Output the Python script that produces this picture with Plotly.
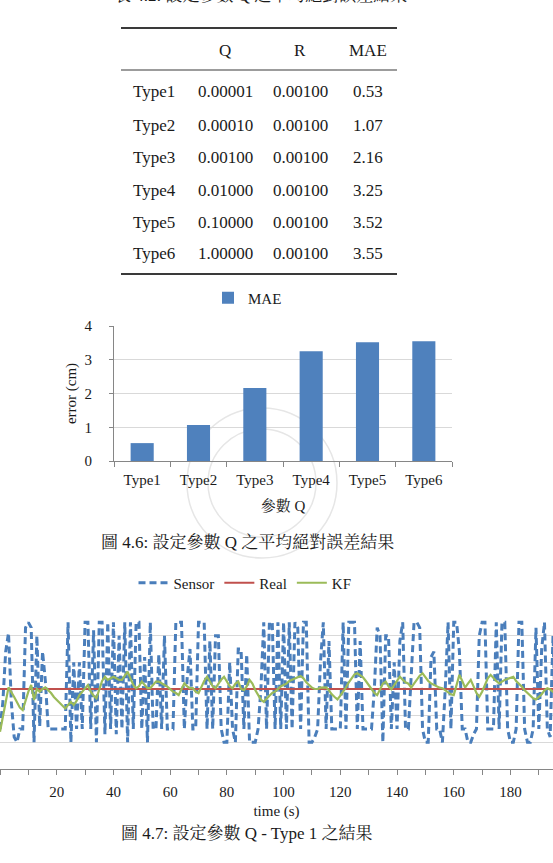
import plotly.graph_objects as go

W, H = 553, 863


def px(x):
    return x / W


def py(y):
    return 1 - y / H


SERIF = "Liberation Serif, Noto Serif CJK TC, Noto Sans CJK TC, serif"

# ---------------- table data ----------------
table_header = ["", "Q", "R", "MAE"]
table_types = ["Type1", "Type2", "Type3", "Type4", "Type5", "Type6"]
table_q = ["0.00001", "0.00010", "0.00100", "0.01000", "0.10000", "1.00000"]
table_r = ["0.00100", "0.00100", "0.00100", "0.00100", "0.00100", "0.00100"]
table_mae = ["0.53", "1.07", "2.16", "3.25", "3.52", "3.55"]

# ---------------- bar chart data ----------------
bar_categories = ["Type1", "Type2", "Type3", "Type4", "Type5", "Type6"]
bar_mae = [0.53, 1.07, 2.16, 3.25, 3.52, 3.55]

# ---------------- line chart data (Type 1) ----------------
time_s = list(range(200))
sensor = [
    1.5, 2.5, 4.4, 5.1, 2.5, 1.2, 1.0, 1.5, 1.5, 5.3,
    5.5, 5.3, 1.0, 5.0, 1.6, 4.4, 3.3, 1.5, 1.5, 1.5,
    1.5, 1.5, 1.5, 1.5, 5.5, 1.0, 4.0, 1.5, 4.0, 1.5,
    5.5, 5.5, 1.5, 5.2, 1.0, 5.5, 5.5, 1.3, 5.5, 1.5,
    5.5, 1.3, 5.0, 1.5, 5.5, 1.0, 5.5, 1.5, 5.5, 5.5,
    1.5, 4.2, 1.0, 5.5, 1.5, 1.5, 4.3, 1.5, 5.0, 1.5,
    1.5, 1.5, 5.5, 5.5, 5.5, 1.5, 3.4, 4.5, 1.5, 1.5,
    5.5, 5.5, 5.5, 1.5, 4.8, 1.5, 5.0, 5.0, 1.5, 1.0,
    1.0, 4.0, 1.5, 1.0, 4.5, 4.5, 1.5, 4.3, 1.0, 1.0,
    1.0, 1.5, 3.0, 5.5, 1.5, 5.5, 5.5, 1.5, 5.5, 1.5,
    5.5, 1.5, 5.5, 1.5, 5.5, 5.3, 1.5, 5.5, 5.5, 1.0,
    1.0, 1.2, 1.5, 4.0, 5.5, 1.5, 4.8, 1.5, 1.5, 1.5,
    1.5, 5.5, 1.5, 5.5, 5.5, 5.5, 1.5, 4.8, 1.5, 1.5,
    1.5, 1.5, 3.0, 5.3, 5.0, 1.0, 5.0, 5.0, 1.5, 4.0,
    1.5, 4.8, 5.5, 1.5, 1.5, 3.5, 5.5, 5.5, 5.3, 1.5,
    1.0, 1.0, 4.2, 4.4, 1.5, 1.5, 1.0, 3.0, 5.5, 1.5,
    5.5, 5.5, 4.4, 1.5, 1.5, 1.0, 1.0, 1.3, 1.5, 5.0,
    5.5, 5.5, 1.5, 1.5, 1.5, 5.5, 1.5, 5.5, 5.5, 1.5,
    1.0, 1.0, 1.5, 5.5, 5.5, 1.5, 1.0, 1.0, 1.5, 5.3,
    1.5, 4.5, 5.5, 1.5, 1.2, 5.0, 1.5, 5.0, 1.5, 3.0,
]
real = [3.0] * 200
kf = [
    1.40, 1.90, 2.50, 3.06, 2.90, 2.70, 2.50, 2.30, 2.21, 2.60,
    2.90, 3.15, 2.59, 3.00, 2.90, 3.00, 3.06, 2.95, 2.85, 2.70,
    2.60, 2.50, 2.40, 2.27, 2.40, 2.52, 2.40, 2.55, 2.77, 2.90,
    3.00, 3.15, 2.90, 2.75, 2.65, 3.00, 3.30, 3.46, 3.34, 3.40,
    3.46, 3.40, 3.34, 3.34, 3.50, 3.65, 3.40, 3.15, 3.03, 3.10,
    3.28, 3.15, 3.03, 3.03, 3.15, 3.28, 3.28, 3.20, 3.15, 3.09,
    3.00, 2.90, 2.85, 2.77, 3.00, 3.21, 3.10, 3.03, 3.03, 2.90,
    2.84, 3.10, 3.30, 3.46, 3.30, 3.10, 3.03, 3.20, 3.35, 3.46,
    3.30, 3.10, 3.03, 3.20, 3.28, 3.00, 2.96, 3.10, 3.34, 3.20,
    2.96, 2.80, 2.60, 2.52, 2.65, 2.75, 2.85, 2.90, 3.00, 3.10,
    3.15, 3.20, 3.30, 3.34, 3.40, 3.45, 3.49, 3.40, 3.25, 3.15,
    3.05, 3.00, 3.00, 3.05, 3.06, 3.06, 2.95, 2.80, 2.70, 2.61,
    2.75, 2.90, 3.06, 3.25, 3.40, 3.55, 3.59, 3.50, 3.44, 3.30,
    3.15, 3.00, 2.85, 2.77, 3.00, 3.20, 3.28, 3.10, 2.99, 3.15,
    3.30, 3.46, 3.35, 3.25, 3.20, 3.05, 3.20, 3.35, 3.50, 3.59,
    3.45, 3.30, 3.21, 3.15, 3.10, 3.05, 3.03, 2.95, 2.85, 2.80,
    2.77, 3.15, 3.53, 3.30, 3.05, 3.20, 3.34, 3.10, 2.85, 2.71,
    2.90, 3.15, 3.40, 3.53, 3.40, 3.30, 3.21, 3.28, 3.34, 3.38,
    3.42, 3.46, 3.30, 3.20, 3.09, 2.95, 2.84, 2.75, 2.65, 2.61,
    2.70, 2.80, 2.95, 3.03, 2.98, 2.90, 2.95, 3.00, 2.95, 2.90,
]
time_tick_values = [0, 10, 20, 30, 40, 50, 60, 70, 80, 90, 100,
                    110, 120, 130, 140, 150, 160, 170, 180, 190]
time_tick_labels = ["0", "", "20", "", "40", "", "60", "", "80", "", "100",
                    "", "120", "", "140", "", "160", "", "180", ""]

caption_table = "表 4.2: 設定參數 Q 之平均絕對誤差結果"
caption_bar = "圖 4.6: 設定參數 Q 之平均絕對誤差結果"
caption_line = "圖 4.7: 設定參數 Q - Type 1 之結果"

AXIS = "#868686"
GRID = "#d9d9d9"
TXT = "#1a1a1a"

fig = go.Figure()

fig.add_trace(go.Bar(
    x=bar_categories, y=bar_mae, name="MAE", showlegend=True,
    marker=dict(color="#4F81BD", line=dict(width=0)),
    width=0.41, xaxis="x", yaxis="y", legend="legend",
))

fig.add_trace(go.Scatter(
    x=time_s, y=sensor, name="Sensor", mode="lines", showlegend=True,
    line=dict(color="#4A7EBB", width=3, dash="7px,4px"),
    xaxis="x2", yaxis="y2", legend="legend2",
))
fig.add_trace(go.Scatter(
    x=time_s, y=real, name="Real", mode="lines", showlegend=True,
    line=dict(color="#C0504D", width=2),
    xaxis="x2", yaxis="y2", legend="legend2",
))
fig.add_trace(go.Scatter(
    x=time_s, y=kf, name="KF", mode="lines", showlegend=True,
    line=dict(color="#9BBB59", width=2.2),
    xaxis="x2", yaxis="y2", legend="legend2",
))

shapes = []
annotations = []


def note(text, x, y, size=17):
    annotations.append(dict(text=text, x=px(x), y=py(y), xref="paper", yref="paper",
                            xanchor="center", yanchor="middle", showarrow=False,
                            font=dict(family=SERIF, size=size, color=TXT)))


# faint watermark seal behind the bar chart
for r in (75, 54):
    shapes.append(dict(type="circle", xref="paper", yref="paper", layer="below",
                       x0=px(262 - r), x1=px(262 + r), y0=py(483 + r), y1=py(483 - r),
                       line=dict(color="#e6e6e6", width=1.5)))

# ---------------- table (booktabs style) ----------------
tx0, tx1 = px(121), px(397)
for yy, w in [(28, 2), (70, 1.2), (274, 2)]:
    shapes.append(dict(type="line", xref="paper", yref="paper",
                       x0=tx0, x1=tx1, y0=py(yy), y1=py(yy),
                       line=dict(color="#3a3a3a", width=w)))

col_x = [154, 225, 300, 368]
for cx, label in zip(col_x, table_header):
    if label:
        note(label, cx, 51)
row_y = [92, 125, 157, 190, 222, 254]
for i, ry in enumerate(row_y):
    for cx, val in zip(col_x, [table_types[i], table_q[i], table_r[i], table_mae[i]]):
        note(val, cx, ry)

# captions
note(caption_table, 260, -4)
note(caption_bar, 247, 542)
note(caption_line, 247, 833)

fig.update_layout(
    width=W, height=H, autosize=False,
    margin=dict(l=0, r=0, t=0, b=0, autoexpand=False),
    paper_bgcolor="white", plot_bgcolor="white",
    font=dict(family=SERIF, size=15, color=TXT),
    showlegend=True,
    shapes=shapes, annotations=annotations,
    xaxis=dict(
        domain=[px(114), px(452)], anchor="y", type="category", automargin=False,
        tickson="boundaries", ticks="outside", ticklen=5, tickcolor=AXIS,
        showline=True, linecolor=AXIS, linewidth=1, showgrid=False,
        tickfont=dict(family=SERIF, size=15, color=TXT),
        ticklabelstandoff=5,
        title=dict(text="參數 Q", font=dict(family=SERIF, size=15, color=TXT), standoff=13),
    ),
    yaxis=dict(
        domain=[py(461), py(326)], anchor="x", range=[0, 4], dtick=1, automargin=False,
        showgrid=True, gridcolor=GRID, gridwidth=1, zeroline=False,
        showline=True, linecolor=AXIS, linewidth=1,
        ticks="outside", ticklen=4, tickcolor=AXIS,
        tickfont=dict(family=SERIF, size=15, color=TXT),
        ticklabelstandoff=14,
        title=dict(text="error (cm)", font=dict(family=SERIF, size=15, color=TXT), standoff=4),
    ),
    xaxis2=dict(
        domain=[0, 1], anchor="y2", range=[0, 195], automargin=False,
        tickmode="array", tickvals=time_tick_values, ticktext=time_tick_labels,
        ticks="outside", ticklen=5, tickcolor=AXIS,
        showline=True, linecolor=AXIS, linewidth=1, showgrid=False, zeroline=False,
        tickfont=dict(family=SERIF, size=15, color=TXT),
        ticklabelstandoff=4,
        title=dict(text="time (s)", font=dict(family=SERIF, size=15, color=TXT), standoff=6),
    ),
    yaxis2=dict(
        domain=[py(769), py(609)], anchor="x2", range=[0, 6], dtick=1, automargin=False,
        showgrid=True, gridcolor=GRID, gridwidth=1, zeroline=False,
        showline=False, showticklabels=False, ticks="",
    ),
    legend=dict(
        x=px(208), y=py(298), xanchor="left", yanchor="middle",
        orientation="h", bgcolor="rgba(0,0,0,0)", itemwidth=30,
        font=dict(family=SERIF, size=15, color=TXT),
    ),
    legend2=dict(
        x=px(245), y=py(583), xanchor="center", yanchor="middle",
        orientation="h", bgcolor="rgba(0,0,0,0)", itemwidth=30,
        font=dict(family=SERIF, size=15, color=TXT),
    ),
)

fig.write_html("out.html")
